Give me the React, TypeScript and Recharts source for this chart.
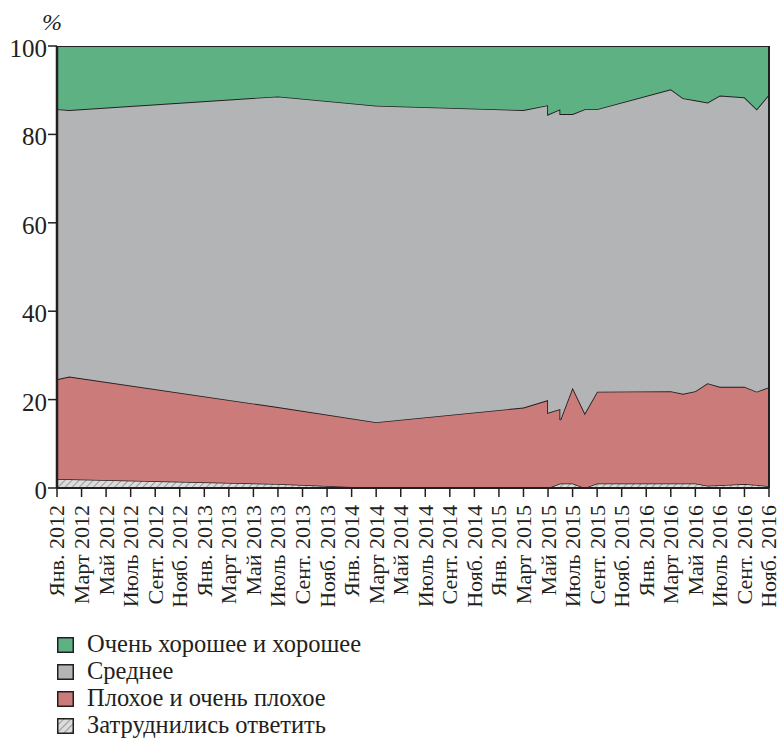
import React from 'react';
import { AreaChart, Area, XAxis, YAxis, ReferenceLine } from 'recharts';

// month index since Jan 2012 (0 = Jan 2012, 58 = Nov 2016)
const months = [0, 1, 18, 26, 38, 40, 40, 41, 41, 42, 43, 44, 50, 51, 52, 53, 54, 56, 57, 58];
const hardToSay = [2.0, 2.0, 0.9, 0, 0, 0, 0, 1.0, 1.0, 1.0, 0, 1.0, 1.0, 1.0, 1.0, 0.5, 0.6, 0.9, 0.7, 0.4];
const bad = [22.6, 23.2, 17.4, 14.9, 18.2, 19.9, 17.0, 16.9, 14.4, 21.7, 16.9, 20.8, 20.9, 20.3, 20.9, 23.2, 22.3, 22.0, 21.1, 22.4];
const average = [61.1, 60.3, 70.3, 71.6, 67.3, 66.7, 67.5, 67.8, 69.2, 61.9, 68.8, 63.9, 68.3, 66.9, 65.8, 63.5, 65.9, 65.5, 63.9, 66.2];
const good = [14.3, 14.5, 11.4, 13.5, 14.5, 13.4, 15.5, 14.3, 15.4, 15.4, 14.3, 14.3, 9.8, 11.8, 12.3, 12.8, 11.2, 11.6, 14.3, 11.0];

const monthNames = ['Янв.', 'Март', 'Май', 'Июль', 'Сент.', 'Нояб.'];
const years = [2012, 2013, 2014, 2015, 2016];
const xTicks: number[] = [];
for (let i = 0; i <= 58; i += 2) xTicks.push(i);
const yTicks = [0, 20, 40, 60, 80, 100];

const seriesNames = ['Очень хорошее и хорошее', 'Среднее', 'Плохое и очень плохое', 'Затруднились ответить'];

const data = months.map((m, i) => ({
  m,
  dk: hardToSay[i],
  bad: bad[i],
  avg: average[i],
  good: good[i],
}));

const FONT = '"Liberation Serif", "Times New Roman", serif';
const DARK = '#231f20';
const GREEN = '#5db183';
const GREY = '#b3b4b6';
const RED = '#cc7b7b';

const tickLabel = (m: number) => {
  const y = years[Math.floor(m / 12)];
  const name = monthNames[(m % 12) / 2];
  return `${name} ${y}`;
};

const XTick = (props: any) => {
  const { x, y, payload } = props;
  const ty = y + 6;
  return (
    <text
      x={x}
      y={ty}
      dy="0.34em"
      transform={`rotate(-90, ${x}, ${ty})`}
      textAnchor="end"
      fontFamily={FONT}
      fontSize={22}
      fill={DARK}
    >
      {tickLabel(payload.value)}
    </text>
  );
};

const YTick = (props: any) => {
  const { x, y, payload } = props;
  return (
    <text x={x + 1} y={y + 11} textAnchor="end" fontFamily={FONT} fontSize={25} fill={DARK}>
      {payload.value}
    </text>
  );
};

const legendColors = [GREEN, GREY, RED, 'url(#hatchLegend)'];

export default function App() {
  return (
    <div style={{ position: 'absolute', left: 0, top: 0, width: 781, height: 739, background: '#fff', overflow: 'hidden' }}>
      <AreaChart
        width={781}
        height={739}
        data={data}
        margin={{ top: 46, right: 12, left: 0, bottom: 0 }}
      >
        <defs>
          <pattern id="hatch" width="5" height="5" patternUnits="userSpaceOnUse" patternTransform="rotate(45)">
            <rect width="5" height="5" fill="#dcdcdc" />
            <line x1="0" y1="0" x2="0" y2="5" stroke="#9a9a9a" strokeWidth="2" />
          </pattern>
        </defs>
        <XAxis
          dataKey="m"
          type="number"
          domain={[0, 58]}
          ticks={xTicks}
          interval={0}
          height={251}
          tickSize={9}
          tick={<XTick />}
          axisLine={{ stroke: DARK, strokeWidth: 2 }}
          tickLine={{ stroke: DARK, strokeWidth: 1.5 }}
        />
        <YAxis
          type="number"
          domain={[0, 100]}
          ticks={yTicks}
          width={57}
          tickSize={9}
          tick={<YTick />}
          axisLine={{ stroke: DARK, strokeWidth: 2.5 }}
          tickLine={{ stroke: DARK, strokeWidth: 1.5 }}
          allowDataOverflow
        />
        <Area
          type="linear"
          dataKey="dk"
          stackId="1"
          fill="url(#hatch)"
          fillOpacity={1}
          stroke={DARK}
          strokeWidth={1.5}
          isAnimationActive={false}
          dot={false}
          activeDot={false}
        />
        <Area
          type="linear"
          dataKey="bad"
          stackId="1"
          fill={RED}
          fillOpacity={1}
          stroke={DARK}
          strokeWidth={1.8}
          isAnimationActive={false}
          dot={false}
          activeDot={false}
        />
        <Area
          type="linear"
          dataKey="avg"
          stackId="1"
          fill={GREY}
          fillOpacity={1}
          stroke={DARK}
          strokeWidth={1.8}
          isAnimationActive={false}
          dot={false}
          activeDot={false}
        />
        <Area
          type="linear"
          dataKey="good"
          stackId="1"
          fill={GREEN}
          fillOpacity={1}
          stroke={DARK}
          strokeWidth={2}
          isAnimationActive={false}
          dot={false}
          activeDot={false}
        />
        <ReferenceLine x={58} stroke={DARK} strokeWidth={2} />
      </AreaChart>

      <div
        style={{
          position: 'absolute',
          left: 42,
          top: 11,
          fontFamily: FONT,
          fontStyle: 'italic',
          fontSize: 24,
          lineHeight: '22px',
          color: DARK,
        }}
      >
        %
      </div>

      <svg width="0" height="0" style={{ position: 'absolute' }}>
        <defs>
          <pattern id="hatchLegend" width="5" height="5" patternUnits="userSpaceOnUse" patternTransform="rotate(45)">
            <rect width="5" height="5" fill="#dcdcdc" />
            <line x1="0" y1="0" x2="0" y2="5" stroke="#9a9a9a" strokeWidth="2" />
          </pattern>
        </defs>
      </svg>

      {seriesNames.map((name, i) => (
        <div
          key={name}
          style={{
            position: 'absolute',
            left: 57,
            top: 630 + i * 27,
            height: 28,
            display: 'flex',
            alignItems: 'flex-start',
            fontFamily: FONT,
            fontSize: 24.5,
            lineHeight: '28px',
            color: DARK,
            whiteSpace: 'nowrap',
          }}
        >
          <svg width={17} height={16} style={{ marginTop: 7, marginRight: 13, display: 'block' }}>
            <rect x={0.75} y={0.75} width={15.5} height={14.5} fill={legendColors[i]} stroke={DARK} strokeWidth={1.5} />
          </svg>
          <span>{name}</span>
        </div>
      ))}
    </div>
  );
}
